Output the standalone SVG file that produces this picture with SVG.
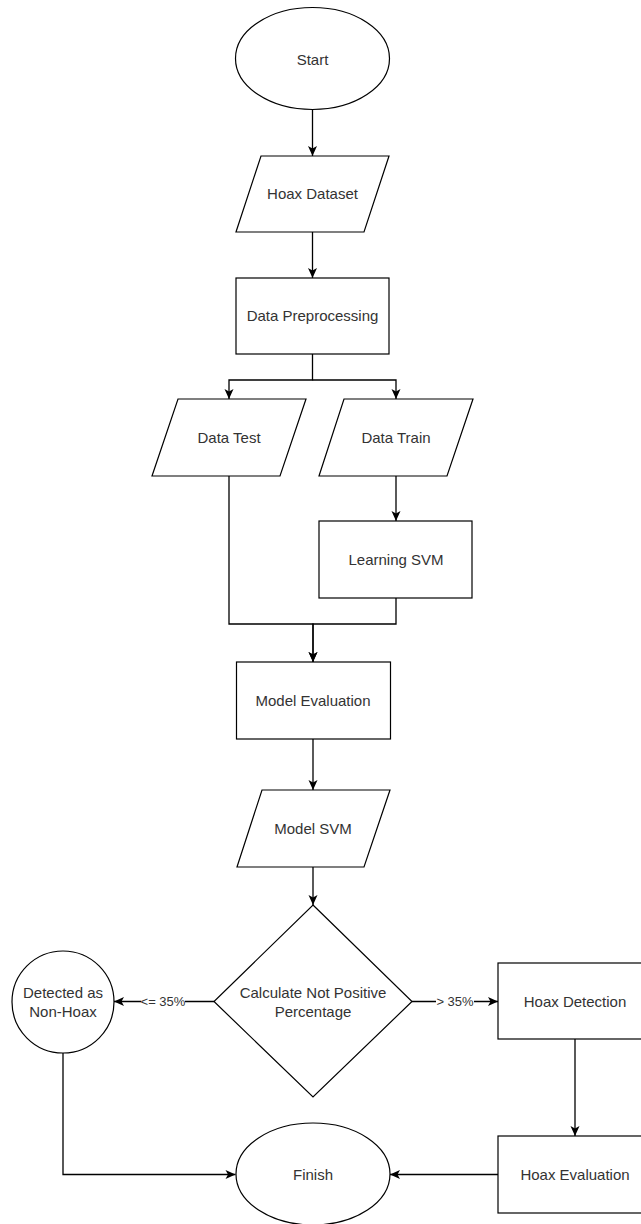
<svg xmlns="http://www.w3.org/2000/svg" width="641" height="1224" viewBox="0 0 641 1224">
<style>
.s{fill:#fff;stroke:#000;stroke-width:1.2}
.t{font-family:"Liberation Sans",Arial,sans-serif;font-size:15px;fill:#333;text-anchor:middle;dominant-baseline:central}
.l{font-family:"Liberation Sans",Arial,sans-serif;font-size:13px;fill:#333;text-anchor:middle;dominant-baseline:central}
.c{fill:none;stroke:#000;stroke-width:1.3}
.a{marker-end:url(#arr)}
</style>
<defs>
<marker id="arr" markerUnits="userSpaceOnUse" markerWidth="12" markerHeight="12" viewBox="0 0 12 12" refX="11" refY="6" orient="auto">
<path d="M1,1.5 L11,6 L1,10.5 L3.5,6 z" fill="#000"/>
</marker>
</defs>
<rect width="641" height="1224" fill="#fff"/>
<g id="connectors">
<path class="c a" d="M312.5,110 V156"/>
<path class="c a" d="M312.5,232 V278"/>
<path class="c a" d="M312.5,354 V380 H229 V399"/>
<path class="c a" d="M312.5,380 H396 V399"/>
<path class="c a" d="M396,476 V521"/>
<path class="c a" d="M229,476 V624 H313 V662"/>
<path class="c a" d="M396,598 V624 H313 V662"/>
<path class="c a" d="M313,739 V790"/>
<path class="c a" d="M313,867 V905"/>
<path class="c a" d="M214,1001.5 H114"/>
<path class="c a" d="M412,1001.5 H498"/>
<path class="c a" d="M575,1039 V1136"/>
<path class="c a" d="M498,1174.5 H390"/>
<path class="c a" d="M63,1053 V1174.5 H235.5"/>
<g id="label-le">
<rect x="141" y="994" width="44" height="15" fill="#fff"/>
<text class="l" x="163" y="1001.5">&lt;= 35%</text>
</g>
<g id="label-gt">
<rect x="436" y="994" width="38" height="15" fill="#fff"/>
<text class="l" x="455" y="1001.5">&gt; 35%</text>
</g>
</g>
<g id="start">
<ellipse class="s" cx="312.5" cy="58.5" rx="77" ry="51"/>
<text class="t" x="312.5" y="59">Start</text>
</g>
<g id="hoax-dataset">
<polygon class="s" points="261,156 389,156 364,232 236,232"/>
<text class="t" x="312.5" y="193">Hoax Dataset</text>
</g>
<g id="data-preprocessing">
<rect class="s" x="236" y="278" width="153" height="76"/>
<text class="t" x="312.5" y="315.5">Data Preprocessing</text>
</g>
<g id="data-test">
<polygon class="s" points="178,399 306,399 280,476 152,476"/>
<text class="t" x="229" y="437">Data Test</text>
</g>
<g id="data-train">
<polygon class="s" points="344,399 473,399 447,476 319,476"/>
<text class="t" x="396" y="437">Data Train</text>
</g>
<g id="learning-svm">
<rect class="s" x="319" y="521" width="153" height="77"/>
<text class="t" x="396" y="559">Learning SVM</text>
</g>
<g id="model-evaluation">
<rect class="s" x="236.5" y="662" width="154" height="77"/>
<text class="t" x="313" y="700">Model Evaluation</text>
</g>
<g id="model-svm">
<polygon class="s" points="262,790 390,790 364,867 237,867"/>
<text class="t" x="313" y="828">Model SVM</text>
</g>
<g id="decision">
<polygon class="s" points="313,905 412,1001.5 313,1097 214,1001.5"/>
<text class="t" x="313" y="992">Calculate Not Positive</text>
<text class="t" x="313" y="1011">Percentage</text>
</g>
<g id="non-hoax">
<circle class="s" cx="63" cy="1002" r="51"/>
<text class="t" x="63" y="992.5">Detected as</text>
<text class="t" x="63" y="1011.5">Non-Hoax</text>
</g>
<g id="hoax-detection">
<rect class="s" x="498" y="963" width="154" height="76"/>
<text class="t" x="575" y="1001">Hoax Detection</text>
</g>
<g id="hoax-evaluation">
<rect class="s" x="498" y="1136" width="154" height="77"/>
<text class="t" x="575" y="1174">Hoax Evaluation</text>
</g>
<g id="finish">
<ellipse class="s" cx="313" cy="1174" rx="77" ry="51"/>
<text class="t" x="313" y="1174">Finish</text>
</g>
</svg>
